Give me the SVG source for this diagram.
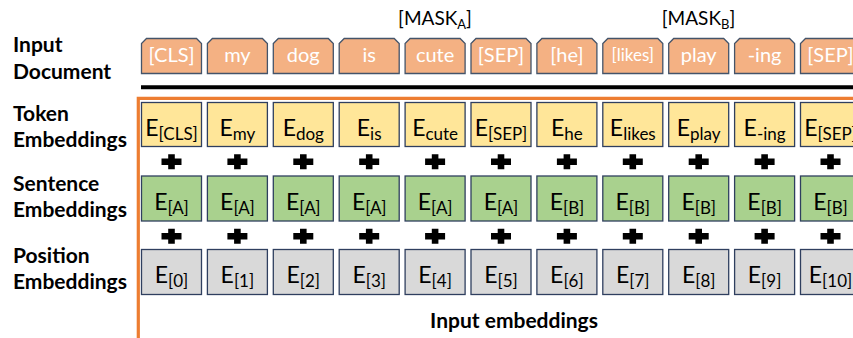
<svg xmlns="http://www.w3.org/2000/svg" xmlns:xlink="http://www.w3.org/1999/xlink" width="853" height="338" viewBox="0 0 853 338">
  <style>
    text { font-family: Lato, "Open Sans", "Liberation Sans", sans-serif; }
    .lbl { font-size: 21px; font-weight: bold; fill: #000; }
    .tok { fill: #F4B183; stroke: #44546A; stroke-width: 1.3; }
    .tokt { font-size: 20px; fill: #fff; text-anchor: middle; }
    .te { fill: #FFE699; stroke: #2F3F5F; stroke-width: 1.3; }
    .se { fill: #A9D18E; stroke: #2F3F5F; stroke-width: 1.3; }
    .pe { fill: #D9D9D9; stroke: #2F3F5F; stroke-width: 1.3; }
    .et { font-size: 23px; fill: #000; text-anchor: middle; }
    .sub { font-size: 17px; }
    .mask { font-size: 19px; fill: #000; text-anchor: middle; }
    .msub { font-size: 13px; }
    .plus { fill: #000; }
  </style>
  <defs>
    <!-- input token: box with both top corners snipped -->
    <path id="tokshape" d="M5,0 H55 L60,5 V35 H0 V5 Z"/>
    <!-- chunky plus sign centred on the origin -->
    <path id="plus" d="M-3.3,-7.5 H3.3 V-3.3 H10 V3.3 H3.3 V7.5 H-3.3 V3.3 H-10 V-3.3 H-3.3 Z"/>
  </defs>

  <rect width="853" height="338" fill="#fff"/>

  <!-- row labels -->
  <g id="labels" class="lbl">
    <text class="lbl" x="13" y="52">Input</text>
    <text class="lbl" x="13" y="78.5">Document</text>
    <text class="lbl" x="13" y="121">Token</text>
    <text class="lbl" x="13" y="146.5">Embeddings</text>
    <text class="lbl" x="13" y="191">Sentence</text>
    <text class="lbl" x="13" y="216.5">Embeddings</text>
    <text class="lbl" x="13" y="263">Position</text>
    <text class="lbl" x="13" y="288.5">Embeddings</text>
  </g>

  <!-- mask markers -->
  <g id="masks">
    <text class="mask" x="435" y="25">[MASK<tspan class="msub" dy="4">A</tspan><tspan dy="-4">]</tspan></text>
    <text class="mask" x="698.5" y="25">[MASK<tspan class="msub" dy="4">B</tspan><tspan dy="-4">]</tspan></text>
  </g>

  <!-- input tokens -->
  <g id="input-tokens">
    <g id="tok0"><use xlink:href="#tokshape" class="tok" x="141.5" y="38.5"/><text class="tokt" x="171.5" y="62">[CLS]</text></g>
    <g id="tok1"><use xlink:href="#tokshape" class="tok" x="207.4" y="38.5"/><text class="tokt" x="237.4" y="62">my</text></g>
    <g id="tok2"><use xlink:href="#tokshape" class="tok" x="273.3" y="38.5"/><text class="tokt" x="303.3" y="62">dog</text></g>
    <g id="tok3"><use xlink:href="#tokshape" class="tok" x="339.2" y="38.5"/><text class="tokt" x="369.2" y="62">is</text></g>
    <g id="tok4"><use xlink:href="#tokshape" class="tok" x="405.1" y="38.5"/><text class="tokt" x="435.1" y="62">cute</text></g>
    <g id="tok5"><use xlink:href="#tokshape" class="tok" x="471" y="38.5"/><text class="tokt" x="501" y="62">[SEP]</text></g>
    <g id="tok6"><use xlink:href="#tokshape" class="tok" x="536.9" y="38.5"/><text class="tokt" x="566.9" y="62">[he]</text></g>
    <g id="tok7"><use xlink:href="#tokshape" class="tok" x="602.8" y="38.5"/><text class="tokt" x="632.8" y="61" style="font-size:17px">[likes]</text></g>
    <g id="tok8"><use xlink:href="#tokshape" class="tok" x="668.7" y="38.5"/><text class="tokt" x="698.7" y="62">play</text></g>
    <g id="tok9"><use xlink:href="#tokshape" class="tok" x="734.6" y="38.5"/><text class="tokt" x="764.6" y="62">-ing</text></g>
    <g id="tok10"><use xlink:href="#tokshape" class="tok" x="800.5" y="38.5"/><text class="tokt" x="830.5" y="62">[SEP]</text></g>
  </g>

  <!-- separator rule and embedding frame -->
  <g id="frame">
    <line x1="141" y1="87.3" x2="860" y2="87.3" stroke="#000" stroke-width="4"/>
    <path d="M870,98.3 H138.3 V345" fill="none" stroke="#ED7D31" stroke-width="3.2"/>
  </g>

  <!-- token embeddings -->
  <g id="token-embeddings">
    <g id="te0"><rect class="te" x="141.5" y="102.5" width="60" height="44"/><text class="et" x="171.5" y="136">E<tspan class="sub" dy="4">[CLS]</tspan></text></g>
    <g id="te1"><rect class="te" x="207.4" y="102.5" width="60" height="44"/><text class="et" x="237.4" y="136">E<tspan class="sub" dy="4">my</tspan></text></g>
    <g id="te2"><rect class="te" x="273.3" y="102.5" width="60" height="44"/><text class="et" x="303.3" y="136">E<tspan class="sub" dy="4">dog</tspan></text></g>
    <g id="te3"><rect class="te" x="339.2" y="102.5" width="60" height="44"/><text class="et" x="369.2" y="136">E<tspan class="sub" dy="4">is</tspan></text></g>
    <g id="te4"><rect class="te" x="405.1" y="102.5" width="60" height="44"/><text class="et" x="435.1" y="136">E<tspan class="sub" dy="4">cute</tspan></text></g>
    <g id="te5"><rect class="te" x="471" y="102.5" width="60" height="44"/><text class="et" x="501" y="136">E<tspan class="sub" dy="4">[SEP]</tspan></text></g>
    <g id="te6"><rect class="te" x="536.9" y="102.5" width="60" height="44"/><text class="et" x="566.9" y="136">E<tspan class="sub" dy="4">he</tspan></text></g>
    <g id="te7"><rect class="te" x="602.8" y="102.5" width="60" height="44"/><text class="et" x="632.8" y="136">E<tspan class="sub" dy="4">likes</tspan></text></g>
    <g id="te8"><rect class="te" x="668.7" y="102.5" width="60" height="44"/><text class="et" x="698.7" y="136">E<tspan class="sub" dy="4">play</tspan></text></g>
    <g id="te9"><rect class="te" x="734.6" y="102.5" width="60" height="44"/><text class="et" x="764.6" y="136">E<tspan class="sub" dy="4">-ing</tspan></text></g>
    <g id="te10"><rect class="te" x="800.5" y="102.5" width="60" height="44"/><text class="et" x="830.5" y="136">E<tspan class="sub" dy="4">[SEP]</tspan></text></g>
  </g>

  <!-- plus signs between rows -->
  <g id="plus-signs" class="plus">
    <use xlink:href="#plus" x="171.5" y="161.8"/><use xlink:href="#plus" x="237.4" y="161.8"/>
    <use xlink:href="#plus" x="303.3" y="161.8"/><use xlink:href="#plus" x="369.2" y="161.8"/>
    <use xlink:href="#plus" x="435.1" y="161.8"/><use xlink:href="#plus" x="501" y="161.8"/>
    <use xlink:href="#plus" x="566.9" y="161.8"/><use xlink:href="#plus" x="632.8" y="161.8"/>
    <use xlink:href="#plus" x="698.7" y="161.8"/><use xlink:href="#plus" x="764.6" y="161.8"/>
    <use xlink:href="#plus" x="830.5" y="161.8"/>
    <use xlink:href="#plus" x="171.5" y="236.3"/><use xlink:href="#plus" x="237.4" y="236.3"/>
    <use xlink:href="#plus" x="303.3" y="236.3"/><use xlink:href="#plus" x="369.2" y="236.3"/>
    <use xlink:href="#plus" x="435.1" y="236.3"/><use xlink:href="#plus" x="501" y="236.3"/>
    <use xlink:href="#plus" x="566.9" y="236.3"/><use xlink:href="#plus" x="632.8" y="236.3"/>
    <use xlink:href="#plus" x="698.7" y="236.3"/><use xlink:href="#plus" x="764.6" y="236.3"/>
    <use xlink:href="#plus" x="830.5" y="236.3"/>
  </g>

  <!-- sentence (segment) embeddings -->
  <g id="sentence-embeddings">
    <g id="se0"><rect class="se" x="141.5" y="176" width="60" height="45"/><text class="et" x="171.5" y="210">E<tspan class="sub" dy="4">[A]</tspan></text></g>
    <g id="se1"><rect class="se" x="207.4" y="176" width="60" height="45"/><text class="et" x="237.4" y="210">E<tspan class="sub" dy="4">[A]</tspan></text></g>
    <g id="se2"><rect class="se" x="273.3" y="176" width="60" height="45"/><text class="et" x="303.3" y="210">E<tspan class="sub" dy="4">[A]</tspan></text></g>
    <g id="se3"><rect class="se" x="339.2" y="176" width="60" height="45"/><text class="et" x="369.2" y="210">E<tspan class="sub" dy="4">[A]</tspan></text></g>
    <g id="se4"><rect class="se" x="405.1" y="176" width="60" height="45"/><text class="et" x="435.1" y="210">E<tspan class="sub" dy="4">[A]</tspan></text></g>
    <g id="se5"><rect class="se" x="471" y="176" width="60" height="45"/><text class="et" x="501" y="210">E<tspan class="sub" dy="4">[A]</tspan></text></g>
    <g id="se6"><rect class="se" x="536.9" y="176" width="60" height="45"/><text class="et" x="566.9" y="210">E<tspan class="sub" dy="4">[B]</tspan></text></g>
    <g id="se7"><rect class="se" x="602.8" y="176" width="60" height="45"/><text class="et" x="632.8" y="210">E<tspan class="sub" dy="4">[B]</tspan></text></g>
    <g id="se8"><rect class="se" x="668.7" y="176" width="60" height="45"/><text class="et" x="698.7" y="210">E<tspan class="sub" dy="4">[B]</tspan></text></g>
    <g id="se9"><rect class="se" x="734.6" y="176" width="60" height="45"/><text class="et" x="764.6" y="210">E<tspan class="sub" dy="4">[B]</tspan></text></g>
    <g id="se10"><rect class="se" x="800.5" y="176" width="60" height="45"/><text class="et" x="830.5" y="210">E<tspan class="sub" dy="4">[B]</tspan></text></g>
  </g>

  <!-- position embeddings -->
  <g id="position-embeddings">
    <g id="pe0"><rect class="pe" x="141.5" y="249.5" width="60" height="45"/><text class="et" x="171.5" y="283">E<tspan class="sub" dy="4">[0]</tspan></text></g>
    <g id="pe1"><rect class="pe" x="207.4" y="249.5" width="60" height="45"/><text class="et" x="237.4" y="283">E<tspan class="sub" dy="4">[1]</tspan></text></g>
    <g id="pe2"><rect class="pe" x="273.3" y="249.5" width="60" height="45"/><text class="et" x="303.3" y="283">E<tspan class="sub" dy="4">[2]</tspan></text></g>
    <g id="pe3"><rect class="pe" x="339.2" y="249.5" width="60" height="45"/><text class="et" x="369.2" y="283">E<tspan class="sub" dy="4">[3]</tspan></text></g>
    <g id="pe4"><rect class="pe" x="405.1" y="249.5" width="60" height="45"/><text class="et" x="435.1" y="283">E<tspan class="sub" dy="4">[4]</tspan></text></g>
    <g id="pe5"><rect class="pe" x="471" y="249.5" width="60" height="45"/><text class="et" x="501" y="283">E<tspan class="sub" dy="4">[5]</tspan></text></g>
    <g id="pe6"><rect class="pe" x="536.9" y="249.5" width="60" height="45"/><text class="et" x="566.9" y="283">E<tspan class="sub" dy="4">[6]</tspan></text></g>
    <g id="pe7"><rect class="pe" x="602.8" y="249.5" width="60" height="45"/><text class="et" x="632.8" y="283">E<tspan class="sub" dy="4">[7]</tspan></text></g>
    <g id="pe8"><rect class="pe" x="668.7" y="249.5" width="60" height="45"/><text class="et" x="698.7" y="283">E<tspan class="sub" dy="4">[8]</tspan></text></g>
    <g id="pe9"><rect class="pe" x="734.6" y="249.5" width="60" height="45"/><text class="et" x="764.6" y="283">E<tspan class="sub" dy="4">[9]</tspan></text></g>
    <g id="pe10"><rect class="pe" x="800.5" y="249.5" width="60" height="45"/><text class="et" x="830.5" y="283">E<tspan class="sub" dy="4">[10]</tspan></text></g>
  </g>

  <!-- caption -->
  <g id="caption">
    <text class="lbl" x="514" y="328" text-anchor="middle">Input embeddings</text>
  </g>
</svg>
